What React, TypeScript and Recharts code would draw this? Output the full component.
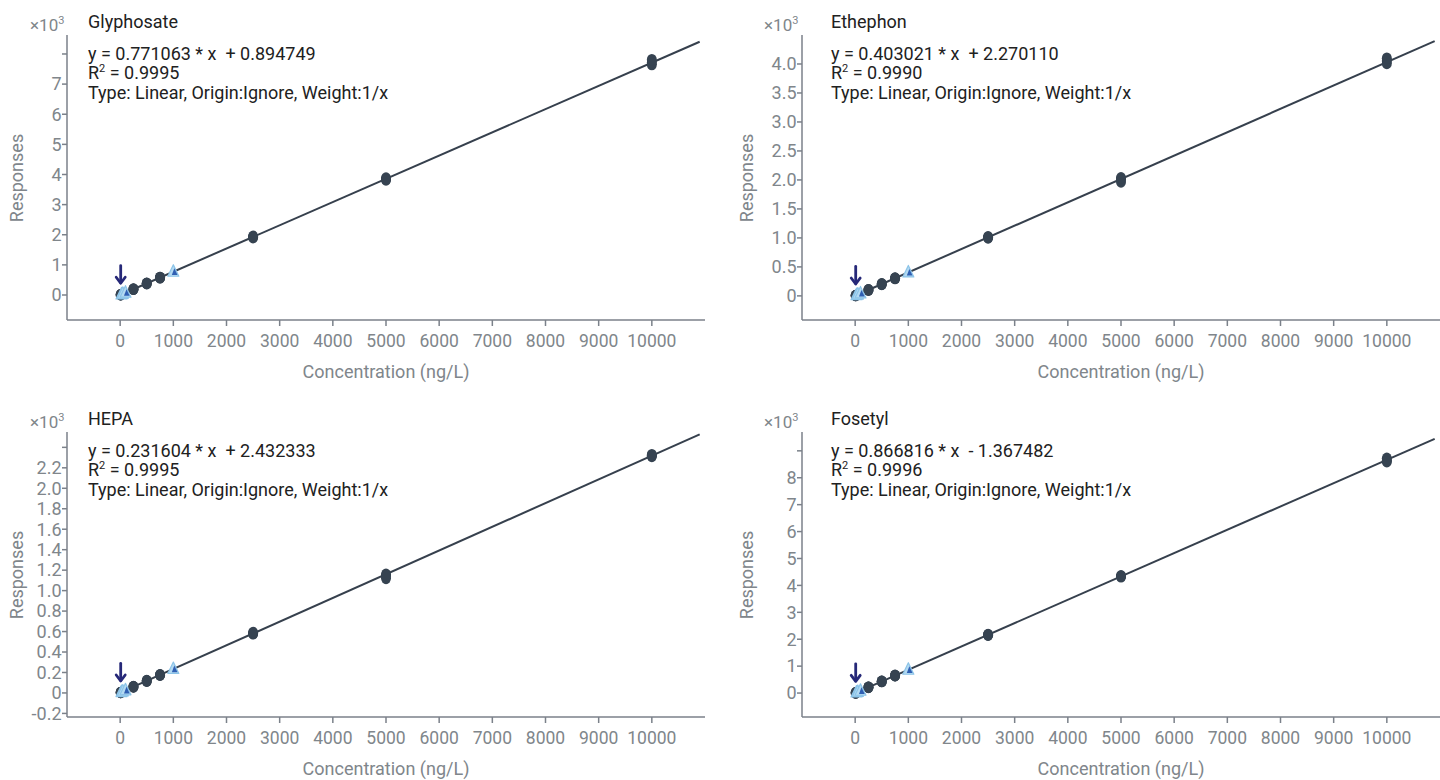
import React from 'react'
import { ScatterChart, Scatter, XAxis, YAxis } from 'recharts'

// calibration levels (ng/L) and QC / low levels
const levels = [10, 250, 500, 750, 2500, 5000, 10000]
const qcLevels = [25, 50, 100, 1000]
const xTicks = [0, 1000, 2000, 3000, 4000, 5000, 6000, 7000, 8000, 9000, 10000]
const fitRange = [0, 10900]

// replicate responses per level
const glyphosateResp = [[8.6, 7.9, 9.2], [193, 196, 190], [384, 390, 379], [576, 582, 570], [1925, 1950, 1905], [3840, 3880, 3820], [7650, 7720, 7810]]
const glyphosateQc = [20.1, 39.5, 78, 772]
const glyphosateTicks = [0, 1000, 2000, 3000, 4000, 5000, 6000, 7000, 8000]

const ethephonResp = [[6.3, 5.9, 6.6], [103, 100, 106], [203, 199, 207], [304, 299, 308], [1010, 1000, 1018], [2010, 1965, 2035], [4050, 4010, 4100]]
const ethephonQc = [12.4, 22.4, 42.6, 405]
const ethephonTicks = [0, 500, 1000, 1500, 2000, 2500, 3000, 3500, 4000]

const hepaResp = [[4.7, 4.5, 5.0], [60.5, 59.5, 61.5], [118, 116, 120], [176, 174, 178], [582, 578, 590], [1160, 1120, 1145], [2320, 2312, 2328]]
const hepaQc = [8.2, 14, 25.6, 234]
const hepaTicks = [-200, 0, 200, 400, 600, 800, 1000, 1200, 1400, 1600, 1800, 2000, 2200, 2400]

const fosetylResp = [[7.3, 6.9, 7.8], [215, 218, 212], [432, 436, 428], [649, 655, 644], [2160, 2175, 2150], [4340, 4320, 4355], [8640, 8720, 8600]]
const fosetylQc = [20.3, 42, 85, 866]
const fosetylTicks = [0, 1000, 2000, 3000, 4000, 5000, 6000, 7000, 8000, 9000]

const GRAY = '#80868b'
const AXIS = '#7b818a'
const DARK = '#364351'
const INK = '#212121'
const FONT = 'Roboto, sans-serif'

const intFmt = (v: number) => String(v / 1000)
const decFmt = (v: number) => (v === 0 ? '0' : (v / 1000).toFixed(1))

const panels = [
  {
    name: 'Glyphosate', slope: 0.771063, intercept: 0.894749, eq: 'y = 0.771063 * x  + 0.894749', r2: '0.9995',
    resp: glyphosateResp, qc: glyphosateQc, ticks: glyphosateTicks, domain: [-830, 8630], hidden: 8000, fmt: intFmt,
  },
  {
    name: 'Ethephon', slope: 0.403021, intercept: 2.27011, eq: 'y = 0.403021 * x  + 2.270110', r2: '0.9990',
    resp: ethephonResp, qc: ethephonQc, ticks: ethephonTicks, domain: [-416, 4500], hidden: null, fmt: decFmt,
  },
  {
    name: 'HEPA', slope: 0.231604, intercept: 2.432333, eq: 'y = 0.231604 * x  + 2.432333', r2: '0.9995',
    resp: hepaResp, qc: hepaQc, ticks: hepaTicks, domain: [-235, 2550], hidden: 2400, fmt: decFmt,
  },
  {
    name: 'Fosetyl', slope: 0.866816, intercept: -1.367482, eq: 'y = 0.866816 * x  - 1.367482', r2: '0.9996',
    resp: fosetylResp, qc: fosetylQc, ticks: fosetylTicks, domain: [-890, 9700], hidden: 9000, fmt: intFmt,
  },
]

// page placement of each panel
const layout = [
  { left: 0, top: 0, width: 720, height: 390, right: 15, xh: 70, textX: 88, expX: 30, yTitleX: 17 },
  { left: 735, top: 0, width: 705, height: 390, right: 0, xh: 70, textX: 831, expX: 764, yTitleX: 747 },
  { left: 0, top: 397, width: 720, height: 383, right: 15, xh: 63, textX: 88, expX: 30, yTitleX: 17 },
  { left: 735, top: 397, width: 705, height: 383, right: 0, xh: 63, textX: 831, expX: 764, yTitleX: 747 },
]

function Dot(p: any) {
  return <ellipse cx={p.cx} cy={p.cy} rx={5} ry={5.8} fill={DARK} />
}

function QcMark(p: any) {
  const { cx, cy } = p
  return (
    <g>
      <path d={`M${cx},${cy - 7} L${cx + 5.5},${cy + 4.5} L${cx - 5.5},${cy + 4.5} Z`} fill="#b3daf2" stroke="#8cc4e8" strokeWidth={1.2} strokeLinejoin="round" />
      <path d={`M${cx + 1},${cy - 3.5} L${cx + 4.2},${cy + 3.2} L${cx - 1.5},${cy + 3.2} Z`} fill="#2f5fb3" />
    </g>
  )
}

function Arrow(p: any) {
  const { cx, cy } = p
  return (
    <g stroke="#262878" strokeWidth={2.8} fill="none" strokeLinecap="round">
      <line x1={cx} y1={cy - 29} x2={cx} y2={cy - 12} />
      <path d={`M${cx - 4.5},${cy - 17.5} L${cx},${cy - 11.5} L${cx + 4.5},${cy - 17.5}`} strokeLinejoin="round" />
    </g>
  )
}

const NoShape = () => <g />

function XTick(p: any) {
  const { x, y, payload } = p
  return (
    <text x={x} y={y + 18.5} textAnchor="middle" fill={GRAY} fontSize={17.5} fontFamily={FONT}>
      {payload.value}
    </text>
  )
}

function Panel({ cfg, pos }: { cfg: (typeof panels)[number]; pos: (typeof layout)[number] }) {
  const circles = levels.flatMap((lv, i) => cfg.resp[i].map((r) => ({ x: lv, y: r })))
  const qc = qcLevels.map((lv, i) => ({ x: lv, y: cfg.qc[i] }))
  const fit = fitRange.map((x) => ({ x, y: cfg.slope * x + cfg.intercept }))
  const arrow = [{ x: levels[0], y: cfg.resp[0][0] }]

  const YTick = (p: any) => {
    const { x, y, payload } = p
    if (payload.value === cfg.hidden) return <g />
    return (
      <text x={x + 1.5} y={y + 6.3} textAnchor="end" fill={GRAY} fontSize={18} fontFamily={FONT}>
        {cfg.fmt(payload.value)}
      </text>
    )
  }

  return (
    <div style={{ position: 'absolute', left: pos.left, top: pos.top }}>
      <ScatterChart width={pos.width} height={pos.height} margin={{ top: 35, right: pos.right, left: 0, bottom: 0 }}>
        <XAxis
          type="number"
          dataKey="x"
          domain={[-1000, 11000]}
          ticks={xTicks}
          interval={0}
          allowDataOverflow
          height={pos.xh}
          stroke={AXIS}
          strokeWidth={1.5}
          tickSize={6}
          tick={<XTick />}
        />
        <YAxis
          type="number"
          dataKey="y"
          domain={cfg.domain}
          ticks={cfg.ticks}
          interval={0}
          allowDataOverflow
          width={67}
          stroke={AXIS}
          strokeWidth={1.5}
          tickSize={5}
          tick={<YTick />}
        />
        <Scatter data={fit} line={{ stroke: '#36404d', strokeWidth: 2 }} shape={NoShape} isAnimationActive={false} />
        <Scatter data={circles} shape={Dot} isAnimationActive={false} />
        <Scatter data={qc} shape={QcMark} isAnimationActive={false} />
        <Scatter data={arrow} shape={Arrow} isAnimationActive={false} />
      </ScatterChart>
    </div>
  )
}

const txt: React.CSSProperties = { position: 'absolute', fontFamily: FONT, whiteSpace: 'pre', lineHeight: '20px' }
const sup: React.CSSProperties = { fontSize: 11, position: 'relative', top: -7, lineHeight: 0 }

function Annotations({ cfg, pos }: { cfg: (typeof panels)[number]; pos: (typeof layout)[number] }) {
  const t = pos.top
  const plotCx = pos.left + 67 + (pos.width - 67 - pos.right) / 2
  const plotCy = pos.top + 35 + 286 / 2
  return (
    <>
      <div style={{ ...txt, left: pos.expX, top: t + 15, color: GRAY, fontSize: 17 }}>
        ×10<span style={sup}>3</span>
      </div>
      <div style={{ ...txt, left: pos.textX, top: t + 12, color: INK, fontSize: 18 }}>{cfg.name}</div>
      <div style={{ ...txt, left: pos.textX, top: t + 44, color: INK, fontSize: 18 }}>{cfg.eq}</div>
      <div style={{ ...txt, left: pos.textX, top: t + 63, color: INK, fontSize: 18 }}>
        R<span style={sup}>2</span> = {cfg.r2}
      </div>
      <div style={{ ...txt, left: pos.textX, top: t + 83, color: INK, fontSize: 18 }}>
        Type: Linear, Origin:Ignore, Weight:1/x
      </div>
      <div style={{ ...txt, left: pos.yTitleX, top: plotCy, color: GRAY, fontSize: 18, transform: 'translate(-50%,-50%) rotate(-90deg)' }}>
        Responses
      </div>
      <div style={{ ...txt, left: plotCx, top: t + 372, color: GRAY, fontSize: 18, transform: 'translate(-50%,-50%)' }}>
        Concentration (ng/L)
      </div>
    </>
  )
}

export default function App() {
  return (
    <div style={{ position: 'absolute', left: 0, top: 0, width: 1440, height: 780, background: '#fff', overflow: 'hidden' }}>
      {panels.map((cfg, i) => (
        <Panel key={cfg.name} cfg={cfg} pos={layout[i]} />
      ))}
      {panels.map((cfg, i) => (
        <Annotations key={cfg.name + '-t'} cfg={cfg} pos={layout[i]} />
      ))}
    </div>
  )
}
